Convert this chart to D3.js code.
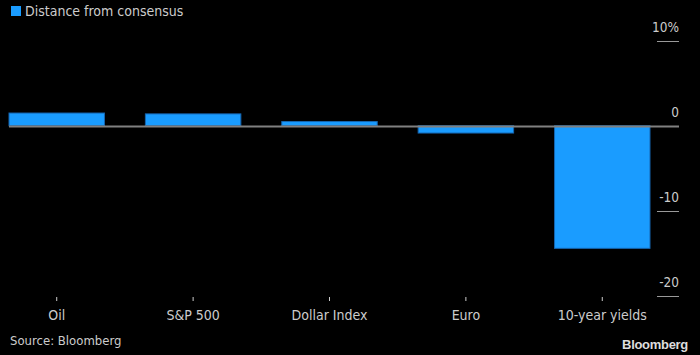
<!DOCTYPE html>
<html><head><meta charset="utf-8">
<script src="https://cdn.jsdelivr.net/npm/d3@7"></script>
<style>
body{margin:0;background:#000;}
svg{display:block;}
text{font-family:"DejaVu Sans Condensed","DejaVu Sans",sans-serif;}
</style></head>
<body>
<svg id="c" width="700" height="355"></svg>
<script>
const categories = ["Oil","S&P 500","Dollar Index","Euro","10-year yields"];
const values = [1.5, 1.4, 0.5, -0.85, -14.4];
const yTicks = [10, 0, -10, -20];
const yTickLabels = ["10%","0","-10","-20"];

const svg = d3.select("#c");
const x = d3.scaleBand().domain(categories).range([9, 650]).paddingInner(0.3).paddingOuter(0);
const y = d3.scaleLinear().domain([-20, 10]).range([296, 40.7]);

// legend
svg.append("rect").attr("x",11).attr("y",6).attr("width",10).attr("height",10).attr("fill","#1a9cff");
svg.append("text").attr("x",25).attr("y",16).attr("fill","#cccccc").attr("font-size",14).text("Distance from consensus");

// y ticks on right
const yt = svg.append("g");
yTicks.forEach((t,i)=>{
  if(t!==0){
    yt.append("line").attr("x1",657).attr("x2",679).attr("y1",Math.round(y(t))+0.5).attr("y2",Math.round(y(t))+0.5)
      .attr("stroke","#999").attr("stroke-width",1);
  }
  yt.append("text").attr("x",679).attr("y",y(t)-9).attr("text-anchor","end")
    .attr("fill","#cccccc").attr("font-size",13.5).text(yTickLabels[i]);
});

// bars
svg.append("g").selectAll("rect").data(values).join("rect")
  .attr("x",(d,i)=>x(categories[i]))
  .attr("width",x.bandwidth())
  .attr("y",d=>y(Math.max(0,d)))
  .attr("height",d=>Math.abs(y(d)-y(0)))
  .attr("fill","#1a9cff")
  .attr("stroke","#1565b0").attr("stroke-width",1);

// zero line
svg.append("line").attr("x1",9).attr("x2",679).attr("y1",Math.round(y(0))+0.5).attr("y2",Math.round(y(0))+0.5)
  .attr("stroke","#808080").attr("stroke-width",2);

// x axis
const xa = svg.append("g").attr("transform","translate(0,297)")
  .call(d3.axisBottom(x).tickSize(4).tickPadding(9).tickSizeOuter(0));
xa.select(".domain").remove();
xa.selectAll(".tick line").attr("stroke","#cccccc");
xa.selectAll(".tick text").attr("fill","#cccccc").attr("font-size",14)
  .attr("font-family","DejaVu Sans Condensed, DejaVu Sans, sans-serif");

// source
svg.append("text").attr("x",10).attr("y",345).attr("fill","#cccccc").attr("font-size",13).text("Source: Bloomberg");
svg.append("text").attr("x",688).attr("y",349).attr("text-anchor","end").attr("fill","#dddddd")
  .attr("font-size",13).attr("font-weight","bold").style("font-family","Liberation Sans, Arial, sans-serif").attr("letter-spacing","-0.3").text("Bloomberg");
</script>
</body></html>
